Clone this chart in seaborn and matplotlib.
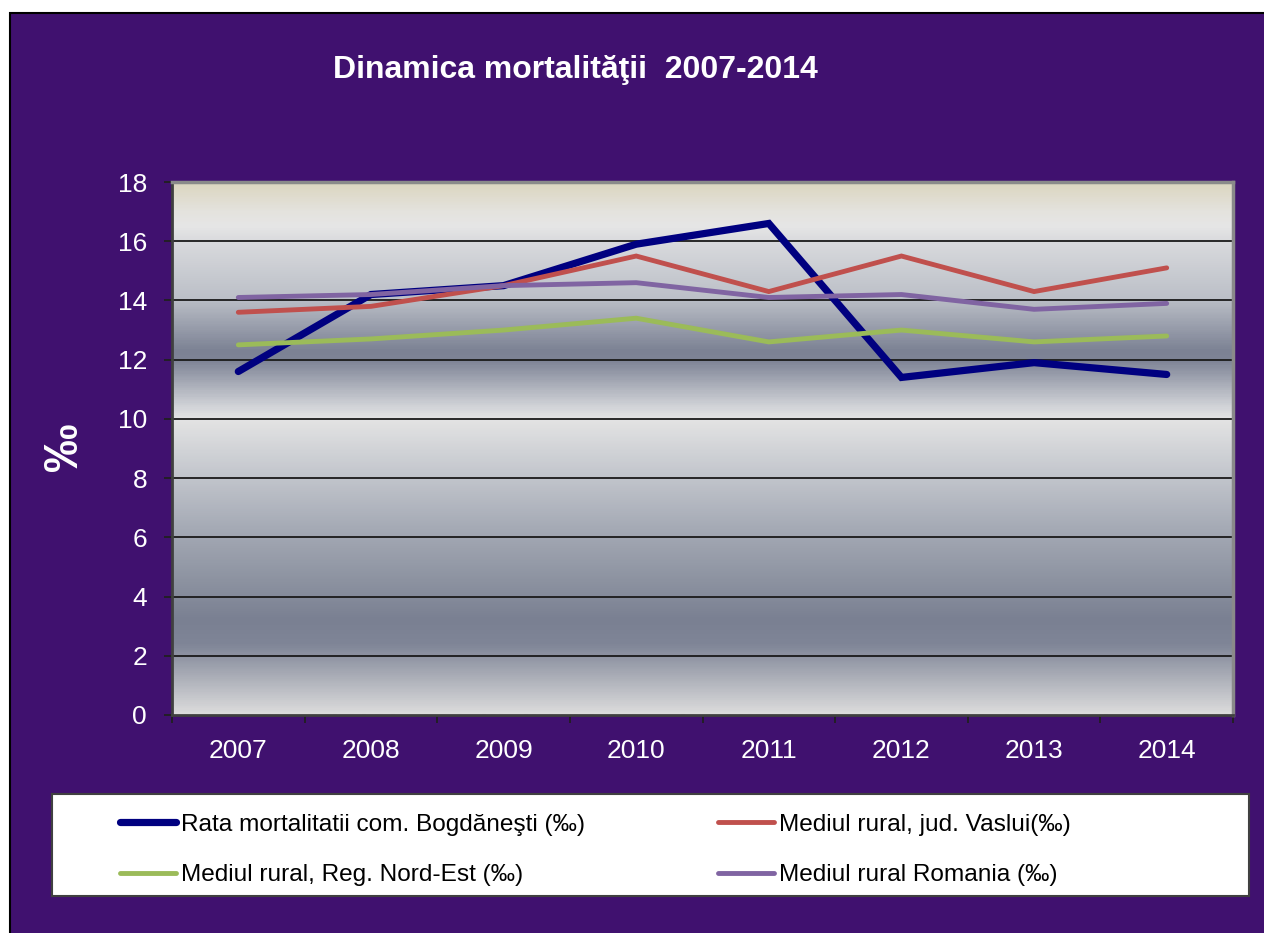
import numpy as np
import pandas as pd
import matplotlib
matplotlib.use("Agg")
import matplotlib.pyplot as plt
import seaborn as sns
from matplotlib.colors import LinearSegmentedColormap
from matplotlib.patches import Rectangle

# ---- data ----
years = ["2007", "2008", "2009", "2010", "2011", "2012", "2013", "2014"]
bogdanesti = [11.6, 14.2, 14.5, 15.9, 16.6, 11.4, 11.9, 11.5]
vaslui = [13.6, 13.8, 14.5, 15.5, 14.3, 15.5, 14.3, 15.1]
nord_est = [12.5, 12.7, 13.0, 13.4, 12.6, 13.0, 12.6, 12.8]
romania = [14.1, 14.2, 14.5, 14.6, 14.1, 14.2, 13.7, 13.9]
series_names = [
    "Rata mortalitatii com. Bogdăneşti (‰)",
    "Mediul rural, jud. Vaslui(‰)",
    "Mediul rural, Reg. Nord-Est (‰)",
    "Mediul rural Romania (‰)",
]
title = "Dinamica mortalităţii  2007-2014"
y_label = "‰"

colors = ["#000080", "#c0504d", "#9bbb59", "#8064a2"]
widths = [5.2, 3.5, 3.5, 3.5]

sns.set_theme(style="white")
plt.rcParams["font.family"] = ["Liberation Sans", "DejaVu Sans"]

W, H = 1264, 933
fig = plt.figure(figsize=(W / 100, H / 100), dpi=100, facecolor="white")

# purple background panel with black border (white margin top/left)
bg = Rectangle((10 / W, -0.01), 1 - 10 / W + 0.01, (H - 13) / H + 0.01, transform=fig.transFigure,
               facecolor="#40116f", edgecolor="black", linewidth=1.5, zorder=-10)
fig.patches.append(bg)

ax = fig.add_axes([172 / W, (H - 715) / H, (1233 - 172) / W, (715 - 182) / H])

# gradient plot area
stops = [
    (0.0, "#dcd6c0"), (0.0525, "#e4e3de"), (0.0807, "#e6e6e6"), (0.109, "#d9dadd"),
    (0.216, "#bcc0c8"), (0.315, "#7c8294"), (0.334, "#7e8496"), (0.418, "#cfd1d6"),
    (0.443, "#e4e4e4"), (0.540, "#c6c9cf"), (0.647, "#a6abb6"), (0.752, "#8c92a0"),
    (0.822, "#7a8092"), (0.869, "#7f8597"), (1.0, "#dcdcdc"),
]
cmap = LinearSegmentedColormap.from_list("bg", stops)
grad = np.linspace(0, 1, 600).reshape(-1, 1)
ax.imshow(grad, extent=(-0.5, 7.5, 0, 18), aspect="auto", cmap=cmap, origin="upper",
          zorder=0, interpolation="bilinear")

x = np.arange(len(years))
all_series = [bogdanesti, vaslui, nord_est, romania]
for vals, name, c, lw in zip(all_series, series_names, colors, widths):
    df = pd.DataFrame({"x": x, "v": vals})
    sns.lineplot(data=df, x="x", y="v", ax=ax, color=c, linewidth=lw, label=name,
                 legend=False, zorder=3, solid_capstyle="round", solid_joinstyle="miter")

ax.set_xlim(-0.5, 7.5)
ax.set_ylim(0, 18)
ax.set_xlabel("")
ax.set_ylabel("")
ax.set_yticks(np.arange(0, 19, 2))
ax.set_xticks(x)
ax.set_xticklabels(years)
ax.set_xticks(np.arange(-0.5, 8.0, 1.0), minor=True)
ax.tick_params(axis="x", which="major", length=0, pad=17, labelsize=19, labelcolor="white")
ax.tick_params(axis="x", which="minor", length=6, width=1.3, color="#202020", direction="out",
               bottom=True)
ax.tick_params(axis="y", length=6, width=1.3, color="#202020", direction="out", left=True,
               pad=12, labelsize=19, labelcolor="white")

for yv in range(2, 18, 2):
    ax.axhline(yv, color="#1a1a1a", linewidth=1.3, zorder=1)

for s in ["left", "bottom"]:
    ax.spines[s].set_color("#404040")
    ax.spines[s].set_linewidth(2)
for s in ["top", "right"]:
    ax.spines[s].set_color("#8a8a8a")
    ax.spines[s].set_linewidth(2.5)

fig.text(575 / W, (H - 70) / H, title, ha="center", va="center", color="white",
         fontsize=23, fontweight="bold")
fig.text(65 / W, (H - 447) / H, y_label, ha="center", va="center", color="white",
         fontsize=35, fontweight="bold", rotation=90)

# legend box
lax = fig.add_axes([52 / W, (H - 896) / H, (1249 - 52) / W, (896 - 794) / H])
lax.set_facecolor("white")
lax.set_xticks([])
lax.set_yticks([])
for s in lax.spines.values():
    s.set_color("#404040")
    s.set_linewidth(1.5)
handles = ax.get_lines()
series_lines = [h for h in handles if h.get_label() in series_names]
lx1 = (120 - 52) / (1249 - 52)
lx2 = (718 - 52) / (1249 - 52)
ly = 0.5 - 5 / 102
leg_kw = dict(loc="center left", frameon=False, fontsize=17.6, handlelength=2.3,
              handletextpad=0.2, labelspacing=1.15, borderpad=0, borderaxespad=0,
              labelcolor="black")
leg1 = lax.legend([series_lines[0], series_lines[2]], [series_names[0], series_names[2]],
                  bbox_to_anchor=(lx1, ly), **leg_kw)
lax.add_artist(leg1)
leg2 = lax.legend([series_lines[1], series_lines[3]], [series_names[1], series_names[3]],
                  bbox_to_anchor=(lx2, ly), **leg_kw)
for lg in (leg1, leg2):
    for ln in lg.get_lines():
        ln.set_solid_capstyle("round")

fig.savefig("out.png", dpi=100, facecolor=fig.get_facecolor())
